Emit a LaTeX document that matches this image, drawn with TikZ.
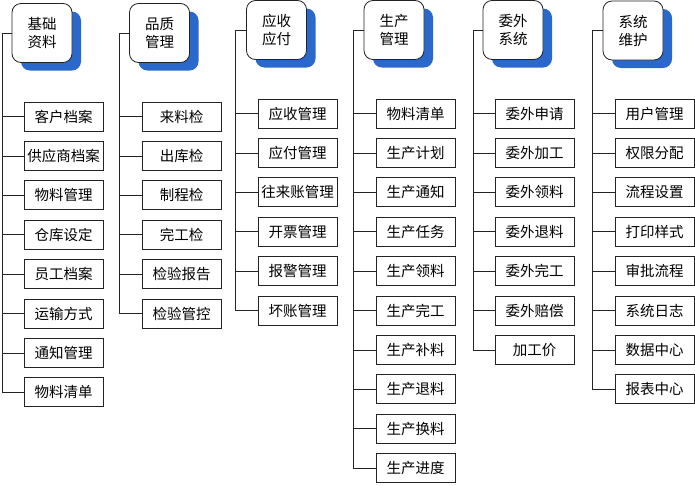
\documentclass[tikz,border=0pt]{standalone}
\usepackage{fontspec}
\newfontfamily\cjk{Noto Sans CJK SC}
\usetikzlibrary{shadows}
\definecolor{MenuBlue}{RGB}{42,104,204}
\definecolor{MenuLine}{RGB}{35,35,35}
\tikzset{
  menu/head/.style={
    draw=MenuLine,
    line width=0.8pt,
    rounded corners=9pt,
    fill=white,
    align=center,
    minimum width=60pt,
    minimum height=59pt,
    inner sep=1pt,
    font=\cjk\fontsize{14.5}{18}\selectfont,
    general shadow={fill=MenuBlue, shadow xshift=9pt, shadow yshift=-8pt}
  },
  menu/item/.style={
    draw=MenuLine,
    line width=0.8pt,
    fill=white,
    anchor=west,
    minimum width=78.5pt,
    minimum height=29pt,
    inner xsep=1pt,
    font=\cjk\fontsize{14.5}{16}\selectfont
  },
  menu/link/.style={draw=MenuLine, line width=0.8pt}
}

\begin{document}
\begin{tikzpicture}[x=1pt,y=-1pt]
  \useasboundingbox (0,0) rectangle (695,485);
  % trunk lines, one per column
  \coordinate (tA) at (2,0);
  \coordinate (tB) at (119,0);
  \coordinate (tC) at (235,0);
  \coordinate (tD) at (353,0);
  \coordinate (tE) at (473,0);
  \coordinate (tF) at (592,0);

  % column heads
  \node[menu/head] (hA) at (42,33) {基础\\资料};
  \node[menu/head] (hB) at (159.5,33) {品质\\管理};
  \node[menu/head] (hC) at (276.5,30) {应收\\应付};
  \node[menu/head] (hD) at (394,30) {生产\\管理};
  \node[menu/head] (hE) at (513,30) {委外\\系统};
  \node[menu/head] (hF) at (633,30.5) {系统\\维护};

  % menu items
  \foreach \txt [count=\i] in {客户档案,供应商档案,物料管理,仓库设定,员工档案,运输方式,通知管理,物料清单}
    \node[menu/item] (a\i) at (24,{116.5+(\i-1)*39.4}) {\txt};
  \foreach \txt [count=\i] in {来料检,出库检,制程检,完工检,检验报告,检验管控}
    \node[menu/item] (b\i) at (142,{116.5+(\i-1)*39.4}) {\txt};
  \foreach \txt [count=\i] in {应收管理,应付管理,往来账管理,开票管理,报警管理,坏账管理}
    \node[menu/item] (c\i) at (258,{113.5+(\i-1)*39.4}) {\txt};
  \foreach \txt [count=\i] in {物料清单,生产计划,生产通知,生产任务,生产领料,生产完工,生产补料,生产退料,生产换料,生产进度}
    \node[menu/item] (d\i) at (376,{113.5+(\i-1)*39.4}) {\txt};
  \foreach \txt [count=\i] in {委外申请,委外加工,委外领料,委外退料,委外完工,委外赔偿,加工价}
    \node[menu/item] (e\i) at (495,{113.5+(\i-1)*39.4}) {\txt};
  \foreach \txt [count=\i] in {用户管理,权限分配,流程设置,打印样式,审批流程,系统日志,数据中心,报表中心}
    \node[menu/item] (f\i) at (615,{113.5+(\i-1)*39.4}) {\txt};

  % connectors
  \draw[menu/link] (hA.west) -| (tA |- a8.west);
  \draw[menu/link] (hB.west) -| (tB |- b6.west);
  \draw[menu/link] (hC.west) -| (tC |- c6.west);
  \draw[menu/link] (hD.west) -| (tD |- d10.west);
  \draw[menu/link] (hE.west) -| (tE |- e7.west);
  \draw[menu/link] (hF.west) -| (tF |- f8.west);
  \foreach \i in {1,...,8} \draw[menu/link] (a\i.west) -- (tA |- a\i.west);
  \foreach \i in {1,...,6} \draw[menu/link] (b\i.west) -- (tB |- b\i.west);
  \foreach \i in {1,...,6} \draw[menu/link] (c\i.west) -- (tC |- c\i.west);
  \foreach \i in {1,...,10} \draw[menu/link] (d\i.west) -- (tD |- d\i.west);
  \foreach \i in {1,...,7} \draw[menu/link] (e\i.west) -- (tE |- e\i.west);
  \foreach \i in {1,...,8} \draw[menu/link] (f\i.west) -- (tF |- f\i.west);
\end{tikzpicture}
\end{document}
